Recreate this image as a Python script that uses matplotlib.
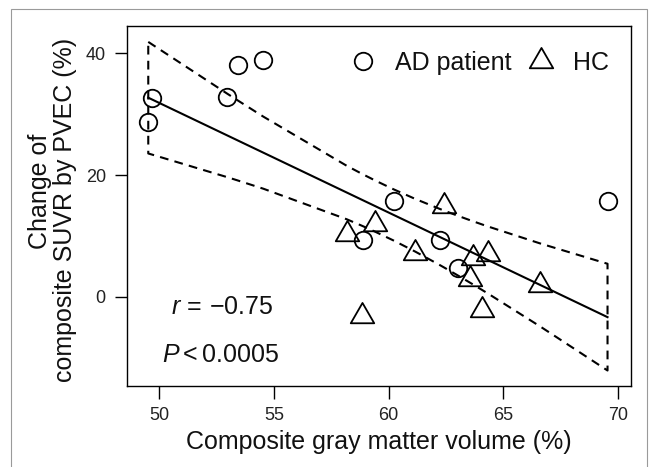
import numpy as np
import matplotlib
matplotlib.use("Agg")
import matplotlib.pyplot as plt
from matplotlib.path import Path
from matplotlib.patches import Rectangle

plt.rcParams['font.family'] = ['Liberation Sans', 'DejaVu Sans']
plt.rcParams['mathtext.fontset'] = 'custom'
plt.rcParams['mathtext.rm'] = 'Liberation Sans'
plt.rcParams['mathtext.it'] = 'Liberation Sans:italic'
plt.rcParams['mathtext.sf'] = 'Liberation Sans'

# ---- data ----
ad_gm = [49.70, 49.52, 53.42, 54.54, 52.97, 60.22, 58.90, 62.24, 63.04, 69.54]
ad_change = [32.7, 28.8, 38.1, 38.9, 32.9, 15.8, 9.4, 9.3, 4.7, 15.8]
hc_gm = [58.17, 59.41, 62.42, 61.15, 63.67, 64.35, 63.55, 66.60, 58.83, 64.06]
hc_change = [10.3, 11.95, 14.85, 7.15, 6.35, 7.05, 2.85, 1.95, -3.1, -2.15]
x_ticks = [50, 55, 60, 65, 70]
y_ticks = [0, 20, 40]
group_labels = ["AD patient", "HC"]
r_text = r"$r\,=\,{-}0.75$"
p_text = r"$P < 0.0005$"
t_crit = 2.1009  # t(0.975, df=18)

# ---- regression with 95% confidence band ----
x_all = np.array(ad_gm + hc_gm)
y_all = np.array(ad_change + hc_change)
n = len(x_all)
slope, intercept = np.polyfit(x_all, y_all, 1)
resid = y_all - (slope * x_all + intercept)
s = np.sqrt(np.sum(resid ** 2) / (n - 2))
xbar = x_all.mean()
sxx = np.sum((x_all - xbar) ** 2)
xs = np.unique(np.sort(x_all))
fit = slope * xs + intercept
half = t_crit * s * np.sqrt(1.0 / n + (xs - xbar) ** 2 / sxx)
upper = fit + half
lower = fit - half
band_x = np.concatenate([xs, xs[::-1], xs[:1]])
band_y = np.concatenate([upper, lower[::-1], upper[:1]])

# ---- figure ----
W, H = 650, 467
fig = plt.figure(figsize=(W / 100, H / 100), dpi=100)
ax = fig.add_axes([126.7 / W, 1 - 385.7 / H, 504 / W, 359.7 / H])

tri = Path([(0, 1), (-0.866, -0.5), (0.866, -0.5), (0, 1)],
           [Path.MOVETO, Path.LINETO, Path.LINETO, Path.CLOSEPOLY])

dash = (0, (4.2, 3.0))
ax.plot(band_x, band_y, color='black', lw=1.5, linestyle=dash,
        dash_capstyle='butt', solid_joinstyle='miter')
ax.plot(xs, fit, color='black', lw=1.5)

h_ad, = ax.plot(ad_gm, ad_change, ls='none', marker='o', ms=12.6,
                mfc='none', mec='black', mew=1.3)
h_hc, = ax.plot(hc_gm, hc_change, ls='none', marker=tri, ms=19.5,
                mfc='none', mec='black', mew=1.3)

ax.set_xlim(48.58, 70.55)
ax.set_ylim(-14.6, 44.5)
ax.set_xticks(x_ticks)
ax.set_yticks(y_ticks)
ax.tick_params(direction='out', length=9, width=1.0, labelsize=13,
               color='black', labelcolor='#222222')
ax.tick_params(axis='x', pad=6)
ax.tick_params(axis='y', pad=6)
for sp in ax.spines.values():
    sp.set_linewidth(1.0)
    sp.set_color('black')

leg = ax.legend([h_ad, h_hc], group_labels, loc='center left',
                bbox_to_anchor=(0.444, 0.897), ncol=2, frameon=False,
                fontsize=18, handlelength=1.0, handletextpad=0.78,
                columnspacing=0.68, borderpad=0, borderaxespad=0,
                numpoints=1)
for t in leg.get_texts():
    t.set_color('#111111')

ax.text(0.189, 0.1993, r_text, transform=ax.transAxes, ha='center',
        va='baseline', fontsize=18, color='#111111')
ax.text(0.187, 0.0667, p_text, transform=ax.transAxes, ha='center',
        va='baseline', fontsize=18, color='#111111')

fig.text(378.7 / W, 1 - 449 / H, "Composite gray matter volume (%)",
         ha='center', va='baseline', fontsize=18, color='#111111')
fig.text(47.3 / W, 1 - 191.7 / H, "Change of", rotation=90,
         rotation_mode='anchor', ha='center', va='baseline',
         fontsize=18, color='#111111')
fig.text(71.7 / W, 1 - 210 / H, "composite SUVR by PVEC (%)", rotation=90,
         rotation_mode='anchor', ha='center', va='baseline',
         fontsize=18, color='#111111')

fig.patches.append(Rectangle((11 / W, -0.1), 636 / W, 1.1 - 9 / H,
                             transform=fig.transFigure, fill=False,
                             edgecolor='#9a9a9a', lw=0.8))

fig.savefig("out.png", dpi=100)
